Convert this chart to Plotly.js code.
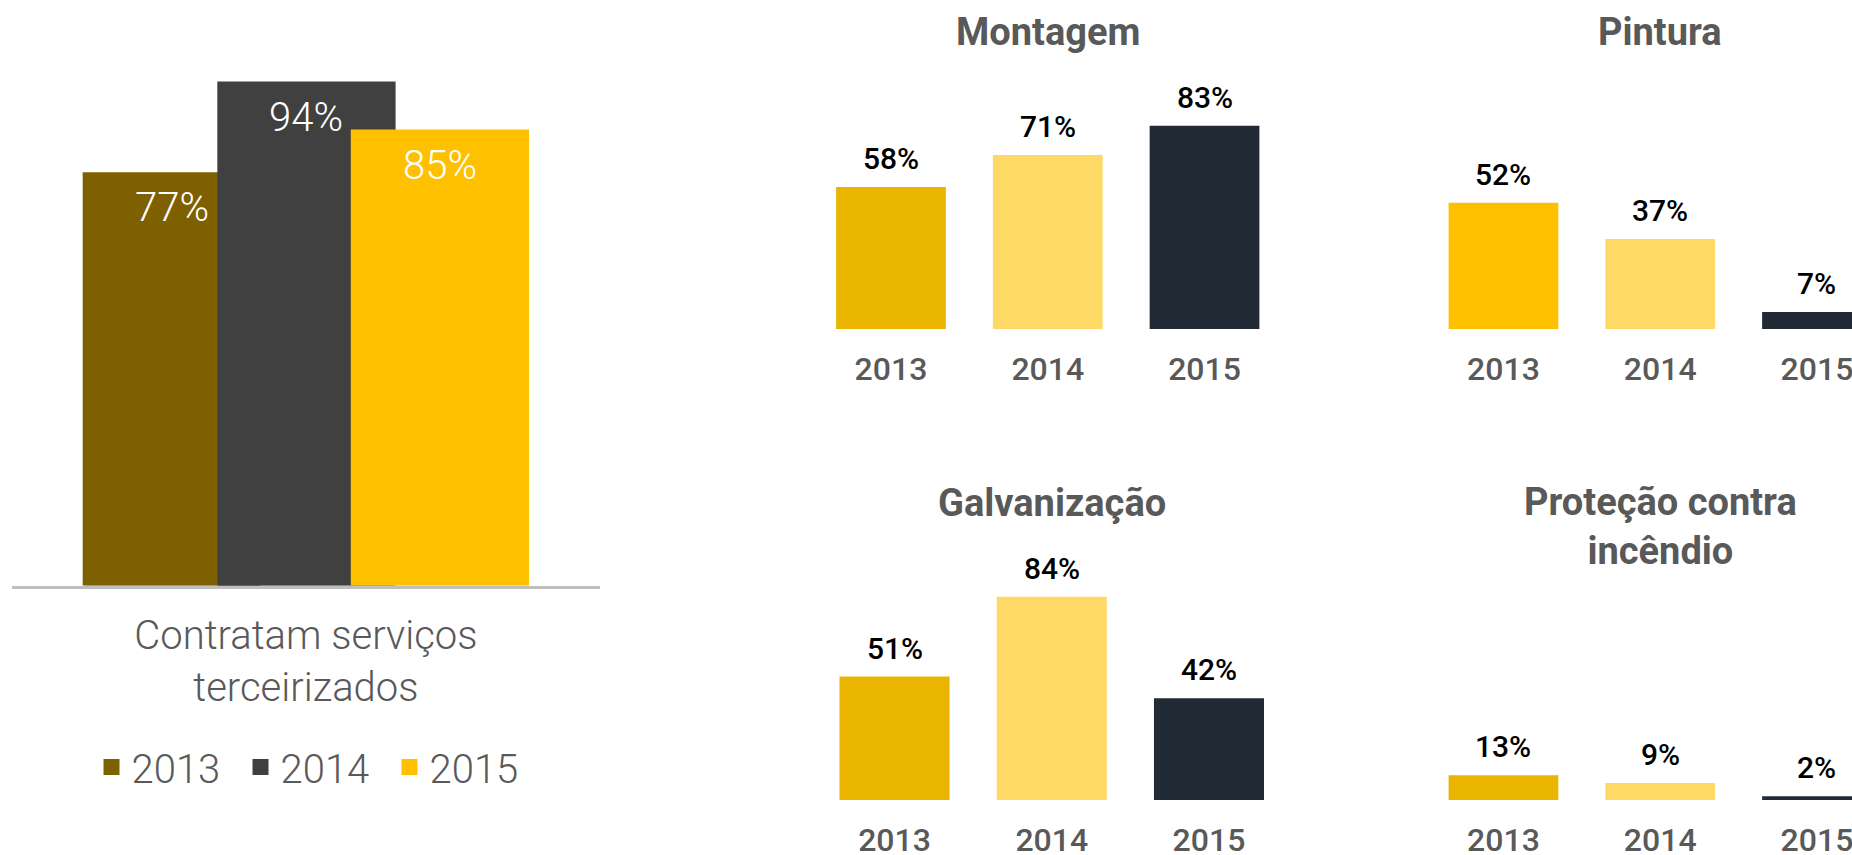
<!DOCTYPE html>
<html>
<head>
<meta charset="utf-8">
<script src="https://cdn.plot.ly/plotly-3.0.1.min.js"></script>
<style>
  html, body { margin: 0; padding: 0; background: #ffffff; }
  #chart { width: 1852px; height: 855px; }
</style>
</head>
<body>
<div id="chart"></div>
<script>
// ---------------- DATA ----------------
const years = ['2013', '2014', '2015'];
const mainCategory = ['Contratam serviços<br>terceirizados'];
const contratam = [77, 94, 85];           // 2013, 2014, 2015
const montagem = [58, 71, 83];
const pintura = [52, 37, 7];
const galvanizacao = [51, 84, 42];
const protecao = [13, 9, 2];
const panelTitles = ['Montagem', 'Pintura', 'Galvanização', 'Proteção contra<br>incêndio'];

// ---------------- STYLE ----------------
const W = 1852, H = 855;
const fx = px => px / W;
const fy = px => 1 - px / H;
const GREY = '#595959';
const mainColors = ['#7F6000', '#404040', '#FFC000'];
const panelColors = [
  ['#E9B500', '#FFD966', '#222A35'],
  ['#FFC000', '#FFD966', '#222A35'],
  ['#E9B500', '#FFD966', '#222A35'],
  ['#E9B500', '#FFD966', '#222A35']
];
// left chart overlapping bars (axis units on a single-category axis)
const mainLine = 4;
const mainWidth = 0.2963;
const mainOffsets = [-0.3761, -0.1472, 0.0797];

const traces = [];
const annotations = [];

years.forEach((yr, i) => {
  traces.push({
    type: 'bar', name: yr,
    x: mainCategory, y: [contratam[i]],
    width: [mainWidth], offset: [mainOffsets[i]],
    marker: { color: mainColors[i], line: { width: mainLine, color: mainColors[i] } },
    xaxis: 'x', yaxis: 'y',
    hoverinfo: 'skip', showlegend: true
  });
  annotations.push({
    xref: 'x', yref: 'y',
    x: mainOffsets[i] + mainWidth / 2, y: contratam[i],
    text: contratam[i] + '%', showarrow: false,
    yanchor: 'top', yshift: -8,
    font: { family: 'Roboto', size: 40, color: '#ffffff', weight: 300 }
  });
});

const panelData = [montagem, pintura, galvanizacao, protecao];
panelData.forEach((vals, p) => {
  const n = p + 2;
  traces.push({
    type: 'bar', x: years, y: vals,
    marker: { color: panelColors[p], line: { width: 0 } },
    xaxis: 'x' + n, yaxis: 'y' + n,
    hoverinfo: 'skip', showlegend: false
  });
  vals.forEach((v, i) => {
    annotations.push({
      xref: 'x' + n, yref: 'y' + n,
      x: i, y: v,
      text: v + '%', showarrow: false,
      yanchor: 'bottom', yshift: 9,
      font: { family: 'Roboto', size: 30, color: '#000000', weight: 500 }
    });
  });
});

// panel titles
const titleY = [32.5, 32.5, 502.5, 478];
const titleAnchor = ['middle', 'middle', 'middle', 'top'];
panelTitles.forEach((t, p) => {
  const n = p + 2;
  annotations.push({
    xref: 'x' + n, yref: 'paper',
    x: 1, y: fy(titleY[p]),
    text: t, showarrow: false,
    xanchor: 'center', yanchor: titleAnchor[p],
    font: { family: 'Roboto', size: 38, color: GREY, weight: 700 }
  });
});

const panelTick = { family: 'Roboto', size: 32, color: GREY, weight: 500 };
const rightRange = [-0.5, -0.5 + (W - 1425.1) / 156.75];

function catAxis(domain, range, anchor) {
  return {
    type: 'category', domain: domain, range: range, anchor: anchor,
    showgrid: false, zeroline: false, showline: false, ticks: '',
    tickfont: panelTick, ticklabelstandoff: 18, fixedrange: true
  };
}
function valAxis(domain, anchor) {
  return {
    domain: domain, range: [0, 100], anchor: anchor, visible: false, fixedrange: true
  };
}

const layout = {
  width: W, height: H,
  margin: { l: 0, r: 0, t: 0, b: 0 },
  paper_bgcolor: '#ffffff', plot_bgcolor: 'rgba(0,0,0,0)',
  barmode: 'overlay', bargap: 0.3,
  showlegend: true,
  legend: {
    orientation: 'h', x: fx(315), xanchor: 'center',
    y: fy(767), yanchor: 'middle',
    entrywidth: 104, entrywidthmode: 'pixels',
    font: { family: 'Roboto', size: 40, color: GREY, weight: 300 },
    bgcolor: 'rgba(0,0,0,0)', itemclick: false, itemdoubleclick: false
  },
  xaxis: {
    type: 'category', domain: [fx(11.8), fx(600)], range: [-0.5, 0.5], anchor: 'y',
    showgrid: false, zeroline: false, showline: true,
    linecolor: '#BFBFBF', linewidth: 3, ticks: '',
    tickfont: { family: 'Roboto', size: 40, color: GREY, weight: 300 },
    ticklabelstandoff: 12, fixedrange: true
  },
  yaxis: { domain: [fy(585.5), fy(51.5)], range: [0, 100], anchor: 'x', visible: false, fixedrange: true },
  xaxis2: catAxis([fx(812.6), fx(1282.9)], [-0.5, 2.5], 'y2'),
  yaxis2: valAxis([fy(329), fy(84)], 'x2'),
  xaxis3: catAxis([fx(1425.1), 1], rightRange, 'y3'),
  yaxis3: valAxis([fy(329), fy(86)], 'x3'),
  xaxis4: catAxis([fx(815.9), fx(1287.6)], [-0.5, 2.5], 'y4'),
  yaxis4: valAxis([fy(800), fy(558)], 'x4'),
  xaxis5: catAxis([fx(1425.1), 1], rightRange, 'y5'),
  yaxis5: valAxis([fy(800), fy(610)], 'x5'),
  annotations: annotations
};

Plotly.newPlot('chart', traces, layout, { staticPlot: true, displayModeBar: false });
</script>
</body>
</html>
